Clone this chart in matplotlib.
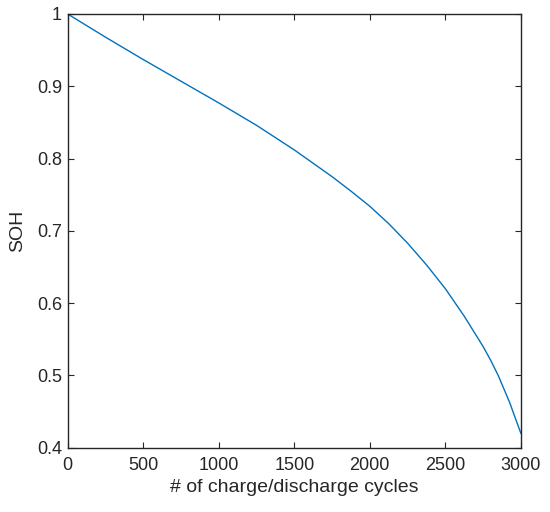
import numpy as np
import matplotlib.pyplot as plt

plt.rcParams['font.family'] = ['Liberation Sans', 'DejaVu Sans']

# values
cycles = [0, 250, 500, 750, 1000, 1250, 1500, 1750, 1875, 2000, 2125, 2250, 2375,
          2500, 2625, 2750, 2800, 2850, 2925, 2965, 3000]
soh = [1.0, 0.968, 0.937, 0.907, 0.877, 0.846, 0.812, 0.775, 0.755, 0.734, 0.710,
       0.683, 0.653, 0.620, 0.582, 0.540, 0.521, 0.500, 0.463, 0.440, 0.42]

fig = plt.figure(figsize=(5.5, 5.12), dpi=100)
ax = fig.add_axes([0.123, 0.1256, 0.824, 0.8471])

ax.plot(cycles, soh, color='#0072BD', lw=1)

ax.set_xlim(0, 3000)
ax.set_ylim(0.4, 1)
ax.set_xticks(np.arange(0, 3001, 500))
ax.set_yticks([0.4, 0.5, 0.6, 0.7, 0.8, 0.9, 1])
ax.set_yticklabels(['0.4', '0.5', '0.6', '0.7', '0.8', '0.9', '1'])

txt = '#262626'
ax.tick_params(direction='in', top=True, right=True, length=4, width=0.8,
               labelsize=13, colors=txt, pad=4)
ax.tick_params(axis='x', pad=7)
for s in ax.spines.values():
    s.set_color(txt)
    s.set_linewidth(1)

ax.set_xlabel('# of charge/discharge cycles', fontsize=14, color=txt, labelpad=3)
ax.set_ylabel('SOH', fontsize=14, color=txt, labelpad=8)

fig.savefig('out.png')
